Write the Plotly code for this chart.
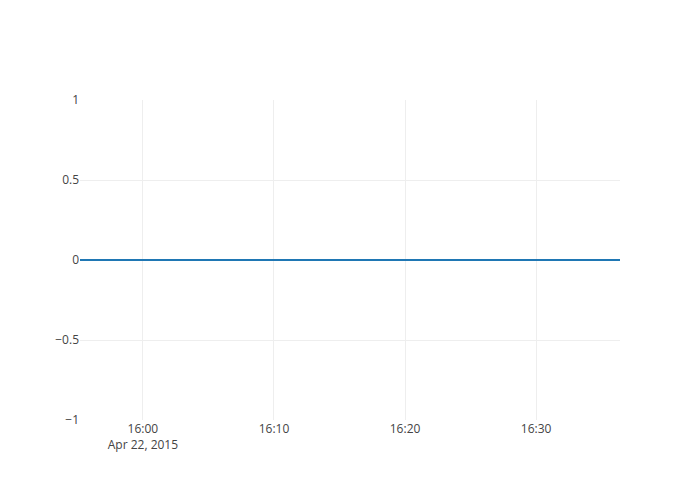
import plotly.graph_objects as go

times = ["2015-04-22 15:55:12", "2015-04-22 16:05:00", "2015-04-22 16:15:00",
         "2015-04-22 16:25:00", "2015-04-22 16:36:24"]
values = [0, 0, 0, 0, 0]

fig = go.Figure(go.Scatter(x=times, y=values, mode="lines",
                           line=dict(color="#1f77b4", width=2)))
fig.update_layout(
    template="none",
    width=700, height=500,
    paper_bgcolor="white", plot_bgcolor="white",
    font=dict(family="Open Sans", size=12, color="#444"),
    margin=dict(l=72, r=88, t=92, b=88),
    showlegend=False,
)
fig.update_xaxes(showgrid=True, gridcolor="#eee", zeroline=False, showline=False, ticks="")
fig.update_yaxes(showgrid=True, gridcolor="#eee", zeroline=True, zerolinecolor="#444",
                 showline=False, ticks="", range=[-1, 1], dtick=0.5)
fig.write_html("out.html")
